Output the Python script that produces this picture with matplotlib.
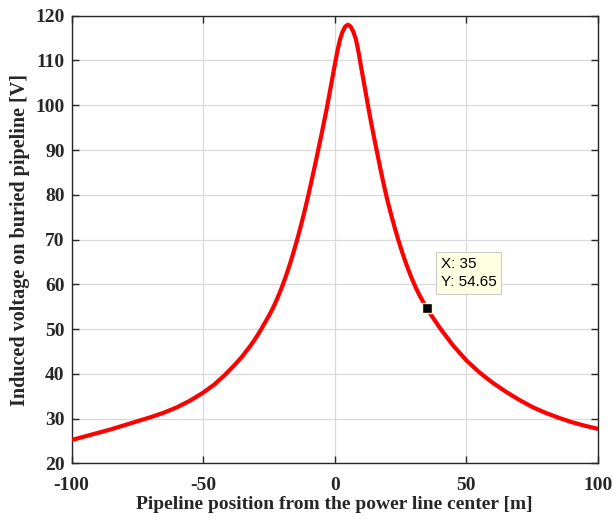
import matplotlib.pyplot as plt

plt.rcParams['axes.unicode_minus'] = False

# pipeline position [m] and induced voltage [V]
position = [-100, -95, -90, -85, -80, -75, -70, -65, -60, -55, -50, -46, -42, -38,
            -35, -32, -30, -28, -27, -26, -25, -24, -23, -22, -21, -20, -19, -18,
            -17, -16, -15, -14, -13, -12, -11, -10, -9, -8, -7, -6, -5, -4, -3,
            -2, -1, 0, 1, 2, 3, 4, 5, 6, 7, 8, 9, 10, 11, 12, 13, 14, 15, 16, 17,
            18, 19, 20, 21, 22, 23, 24, 25, 26, 27, 28, 29, 30, 31, 32, 33, 34,
            35, 37, 40, 45, 50, 55, 60, 65, 70, 75, 80, 85, 90, 95, 100]
voltage = [25.2, 26.0, 26.8, 27.6, 28.5, 29.4, 30.3, 31.3, 32.5, 34.0, 35.8, 37.5,
           39.6, 42.0, 44.0, 46.3, 48.0, 49.9, 50.95, 51.95, 53.0, 54.1, 55.3,
           56.6, 58.0, 59.5, 61.1, 62.8, 64.6, 66.5, 68.5, 70.6, 72.8, 75.1, 77.5,
           80.0, 82.6, 85.3, 88.0, 90.8, 93.6, 96.5, 99.4, 102.6, 105.8, 109.0,
           112.1, 114.7, 116.5, 117.6, 118.0, 117.6, 116.5, 114.8, 112.0, 108.6,
           105.3, 102.0, 98.7, 95.6, 92.6, 89.7, 86.8, 84.0, 81.3, 78.8, 76.5,
           74.3, 72.2, 70.2, 68.3, 66.5, 64.8, 63.2, 61.7, 60.3, 59.0, 57.8, 56.7,
           55.65, 54.65, 52.8, 50.2, 46.3, 43.0, 40.3, 38.0, 36.0, 34.2, 32.6, 31.3,
           30.2, 29.2, 28.4, 27.7]

tip_x = 35
tip_y = 54.65

xticks = [-100, -50, 0, 50, 100]
yticks = [20, 30, 40, 50, 60, 70, 80, 90, 100, 110, 120]

fig = plt.figure(figsize=(6.13, 5.19), dpi=100)
ax = fig.add_axes([0.1168, 0.1073, 0.8586, 0.8624])

ax.plot(position, voltage, color='red', lw=3, zorder=3, solid_joinstyle='round')

# data tip
ax.plot([tip_x], [tip_y], marker='s', ms=7, mfc='black', mec='#FFFFE1', mew=1, zorder=5)
ax.text(40.3, 66.2, 'X: %g\nY: %.2f' % (tip_x, tip_y), family='Liberation Sans',
        fontsize=11, va='top', ha='left', linespacing=1.4, zorder=6,
        bbox=dict(boxstyle='square,pad=0.32', fc='#FFFFE1', ec='#CACACA', lw=0.8))

ax.set_xlim(-100, 100)
ax.set_ylim(20, 120)
ax.set_xticks(xticks)
ax.set_yticks(yticks)
ax.grid(True, color='#DADADA', lw=0.9)
ax.set_axisbelow(True)

ax.tick_params(direction='in', length=5, width=1, color='#262626',
               top=True, right=True, labelsize=14)
ax.tick_params(axis='x', pad=10)
ax.tick_params(axis='y', pad=5)
for lab in ax.get_xticklabels() + ax.get_yticklabels():
    lab.set_family('Liberation Serif')
    lab.set_fontweight('bold')
    lab.set_color('#262626')
for s in ax.spines.values():
    s.set_color('#262626')
    s.set_linewidth(1)

ax.set_xlabel('Pipeline position from the power line center [m]', family='Liberation Serif',
              fontweight='bold', fontsize=14, color='#262626', labelpad=1)
ax.set_ylabel('Induced voltage on buried pipeline [V]', family='Liberation Serif',
              fontweight='bold', fontsize=14.5, color='#262626', labelpad=4)

fig.savefig('out.png', dpi=100)
